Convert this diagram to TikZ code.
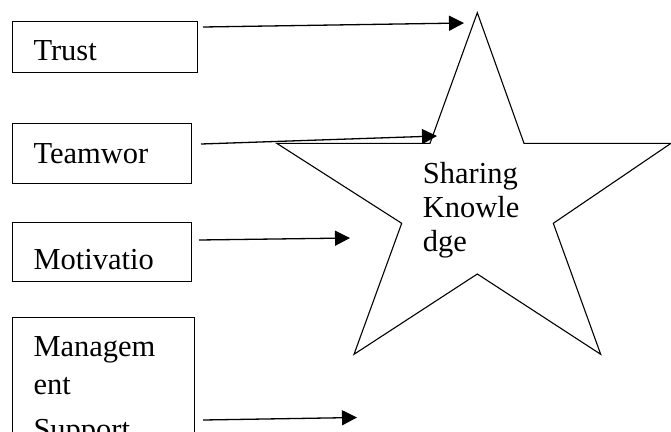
\documentclass[tikz,border=0pt]{standalone}
\usepackage{fontspec}
\setmainfont{Liberation Serif}
\usetikzlibrary{arrows.meta}
\begin{document}
\begin{tikzpicture}[x=1pt,y=-1pt,
  box/.style={draw, line width=1.3pt, inner sep=0pt, anchor=north west},
  txt/.style={anchor=base west, inner sep=0pt, font=\fontsize{30.5}{35}\selectfont},
  arr/.style={line width=1.3pt, -{Triangle[length=15pt,width=15pt]}},
  starline/.style={line width=1.1pt, line join=miter}]
\useasboundingbox (0,0) rectangle (671,431);
\clip (0,0) rectangle (671,431);
\fill[white] (0,0) rectangle (671,431);
% boxes
\node[box, minimum width=185pt, minimum height=51pt] (trust) at (12,21) {};
\node[box, minimum width=179pt, minimum height=60pt] (team) at (12,123) {};
\node[box, minimum width=179pt, minimum height=59pt] (motiv) at (12,222) {};
\node[box, minimum width=182pt, minimum height=160pt] (mgmt) at (12,317) {};
% box texts
\node[txt] (ttrust) at (33.3,60.7) {Trust};
\node[txt] (tteam) at (33.3,163.3) {Teamwor};
\node[txt] (tmotiv) at (33.3,269.3) {Motivatio};
\node[txt] (tmgmt1) at (33.3,356) {Managem};
\node[txt] (tmgmt2) at (33.3,394) {ent};
\node[txt] (tmgmt3) at (33.3,439) {Support};
% star
\coordinate (s1) at (477.3,12.7);
\coordinate (s2) at (524,143.3);
\coordinate (s3) at (671,143.3);
\coordinate (s4) at (553.3,223.3);
\coordinate (s5) at (600.7,354.3);
\coordinate (s6) at (477.3,274);
\coordinate (s7) at (354,354.3);
\coordinate (s8) at (401.7,223.3);
\coordinate (s9) at (276.7,143.3);
\coordinate (s10) at (430,143.3);
\draw[starline] (s1) -- (s2) -- (s3) -- (s4) -- (s5) -- (s6) -- (s7) -- (s8) -- (s9) -- (s10) -- cycle;
\node[txt] (sk1) at (422.7,183.3) {Sharing};
\node[txt] (sk2) at (422.7,217.7) {Knowle};
\node[txt] (sk3) at (422.7,251.7) {dge};
% arrows
\coordinate (a1s) at (203,27);
\coordinate (a1e) at (464,23);
\coordinate (a2s) at (201,144);
\coordinate (a2e) at (437,136);
\coordinate (a3s) at (199,240);
\coordinate (a3e) at (350,238);
\coordinate (a4s) at (203,420);
\coordinate (a4e) at (357,417.5);
\draw[arr] (a1s) -- (a1e);
\draw[arr] (a2s) -- (a2e);
\draw[arr] (a3s) -- (a3e);
\draw[arr] (a4s) -- (a4e);
\end{tikzpicture}
\end{document}
